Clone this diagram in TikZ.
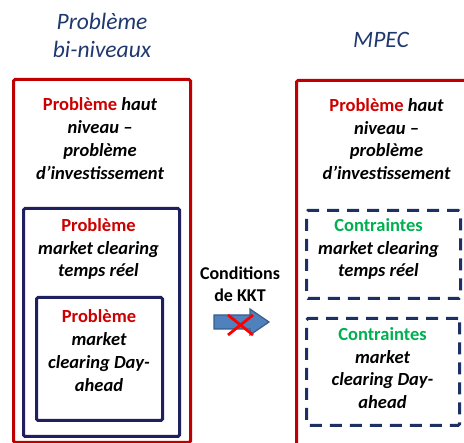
\documentclass[tikz,border=0pt]{standalone}
\usepackage{fontspec}
\setmainfont{Carlito}
\usetikzlibrary{calc}
\definecolor{boxred}{RGB}{192,0,0}
\definecolor{txtred}{RGB}{204,0,0}
\definecolor{navybox}{RGB}{32,32,96}
\definecolor{navydash}{RGB}{28,48,100}
\definecolor{titlenavy}{RGB}{31,56,110}
\definecolor{kgreen}{RGB}{0,176,80}
\definecolor{arrowblue}{RGB}{79,129,189}
\definecolor{arrowedge}{RGB}{56,93,138}
\newcommand{\rd}[1]{\textcolor{txtred}{\textbf{#1}}}
\newcommand{\gr}[1]{\textcolor{kgreen}{\textbf{#1}}}
\begin{document}
\begin{tikzpicture}[x=1pt,y=-1pt,
  redbox/.style={draw=boxred,line width=3pt,rounded corners=1.5pt,rectangle,inner sep=0pt,anchor=north west},
  navybox/.style={draw=navybox,line width=3pt,rounded corners=1.5pt,rectangle,inner sep=0pt,anchor=north west},
  dashbox/.style={draw=navydash,line width=3pt,rounded corners=1.5pt,rectangle,inner sep=0pt,anchor=north west,dash pattern=on 12pt off 8pt},
  body/.style={align=center,inner sep=0pt,font=\fontsize{18.5}{22.7}\selectfont\bfseries\itshape},
  midtxt/.style={align=center,inner sep=0pt,font=\fontsize{18}{22}\selectfont\bfseries},
  title/.style={align=center,inner sep=0pt,text=titlenavy,font=\fontsize{23.5}{28}\selectfont\itshape}]
\useasboundingbox (0,0) rectangle (464,443);
\clip (0,0) rectangle (464,443);
% titles
\node[title] (t1) at (102,37.5) {\strut Problème\\bi-niveaux\strut};
\node[title] (t2) at (381,41.5) {\strut MPEC\strut};
% left side boxes
\node[redbox,minimum width=177pt,minimum height=363pt] (lred) at (12,78) {};
\node[navybox,minimum width=156pt,minimum height=228pt] (lnav) at (22,207) {};
\node[navybox,minimum width=126pt,minimum height=123pt] (linn) at (35,296) {};
% right side boxes
\node[redbox,minimum width=200pt,minimum height=400pt] (rred) at (295,79) {};
\node[dashbox,minimum width=154pt,minimum height=88pt] (rd1) at (305,209) {};
\node[dashbox,minimum width=153pt,minimum height=107pt] (rd2) at (305,317) {};
% texts left
\node[body] (lt1) at (100,140.5) {\strut\rd{\upshape Problème} haut\\niveau –\\problème\\d’investissement\strut};
\node[body] (lt2) at (98.5,249.5) {\strut\rd{\upshape Problème}\\market clearing\\temps réel\strut};
\node[body] (lt3) at (99,352.5) {\strut\rd{\upshape Problème}\\market\\clearing Day-\\ahead\strut};
% texts right
\node[body] (rt1) at (386.5,141) {\strut\rd{\upshape Problème} haut\\niveau –\\problème\\d’investissement\strut};
\node[body] (rt2) at (378.5,249.5) {\strut\gr{\upshape Contraintes}\\market clearing\\temps réel\strut};
\node[body] (rt3) at (382.5,370) {\strut\gr{\upshape Contraintes}\\market\\clearing Day-\\ahead\strut};
% middle
\node[midtxt] (kkt) at (240,286.5) {\strut Conditions\\de KKT\strut};
\coordinate (a0) at (214,322);
\coordinate (a1) at (269,322);
\draw[draw=arrowedge,fill=arrowblue,line width=1.2pt,line join=miter]
  ($(a0)+(0,-7)$) -- ++(36,0) -- ++(0,-6) -- (a1) -- ++(-19,13) -- ++(0,-6) -- ($(a0)+(0,7)$) -- cycle;
\coordinate (x1) at (228,315);
\coordinate (x2) at (253,335);
\coordinate (x3) at (228,335);
\coordinate (x4) at (253,315);
\draw[red,line width=2.8pt] (x1) -- (x2) (x3) -- (x4);
\end{tikzpicture}
\end{document}
